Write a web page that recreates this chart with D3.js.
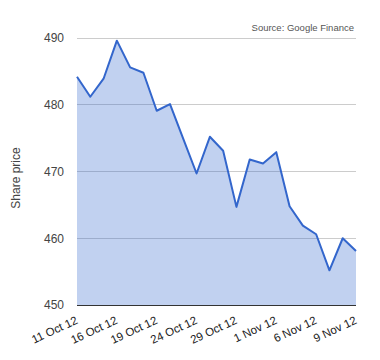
<!DOCTYPE html>
<html><head><meta charset="utf-8">
<script src="https://cdn.jsdelivr.net/npm/d3@7"></script>
<style>body{margin:0;background:#fff}svg{display:block;font-family:Arial,"Liberation Sans",sans-serif}</style>
</head><body><div id="chart"></div>
<script>
const dates = ["11 Oct 12","12 Oct 12","15 Oct 12","16 Oct 12","17 Oct 12","18 Oct 12","19 Oct 12","22 Oct 12","23 Oct 12","24 Oct 12","25 Oct 12","26 Oct 12","29 Oct 12","30 Oct 12","31 Oct 12","1 Nov 12","2 Nov 12","5 Nov 12","6 Nov 12","7 Nov 12","8 Nov 12","9 Nov 12"];
const prices = [484.2,481.2,483.9,489.6,485.6,484.8,479.1,480.1,474.9,469.7,475.2,473.1,464.7,471.8,471.2,472.9,464.8,461.9,460.6,455.2,460.0,458.1];
const shownLabels = ["11 Oct 12","16 Oct 12","19 Oct 12","24 Oct 12","29 Oct 12","1 Nov 12","6 Nov 12","9 Nov 12"];
const yTicks = [450,460,470,480,490];
const yTitle = "Share price";
const sourceText = "Source: Google Finance";

const W = 380, H = 360;
const m = {left:77, right:24, top:38, bottom:55};
const svg = d3.select("#chart").append("svg").attr("width",W).attr("height",H);
const x = d3.scalePoint().domain(dates).range([m.left, W - m.right]);
const y = d3.scaleLinear().domain([450,490]).range([H - m.bottom, m.top]);

// gridlines
svg.append("g").selectAll("line").data(yTicks.filter(d=>d!==450)).join("line")
  .attr("x1", m.left).attr("x2", W - m.right)
  .attr("y1", d=>y(d)).attr("y2", d=>y(d))
  .attr("stroke","#cccccc").attr("stroke-width",1).attr("shape-rendering","crispEdges");

const data = dates.map((d,i)=>({d, v: prices[i]}));
svg.append("path").datum(data)
  .attr("d", d3.area().x(p=>x(p.d)).y0(y(450)).y1(p=>y(p.v)))
  .attr("fill","#3366cc").attr("fill-opacity",0.3);
svg.append("path").datum(data)
  .attr("d", d3.line().x(p=>x(p.d)).y(p=>y(p.v)))
  .attr("fill","none").attr("stroke","#3366cc").attr("stroke-width",2).attr("stroke-linejoin","round");

// baseline
svg.append("line").attr("x1",m.left).attr("x2",W-m.right).attr("y1",y(450)).attr("y2",y(450))
  .attr("stroke","#333").attr("stroke-width",1).attr("shape-rendering","crispEdges");

// y axis labels
const yAxis = d3.axisLeft(y).tickValues(yTicks).tickSize(0).tickPadding(13);
const gy = svg.append("g").attr("transform",`translate(${m.left},0)`).call(yAxis);
gy.select(".domain").remove();
gy.selectAll("text").attr("font-size","12px").attr("fill","#444").attr("font-family","Arial, 'Liberation Sans', sans-serif");

// x axis labels
const xAxis = d3.axisBottom(x).tickValues(shownLabels).tickSize(0).tickPadding(0);
const gx = svg.append("g").attr("transform",`translate(0,${y(450)})`).call(xAxis);
gx.select(".domain").remove();
gx.selectAll("text").attr("font-size","11.5px").attr("fill","#222")
  .attr("font-family","Arial, 'Liberation Sans', sans-serif")
  .attr("text-anchor","end").attr("dy",0)
  .attr("transform","translate(1,18) rotate(-25)");

// y title
svg.append("text").attr("transform","translate(20,178) rotate(-90)")
  .attr("text-anchor","middle").attr("font-size","12px").attr("fill","#444").text(yTitle);

// source
svg.append("text").attr("x",W-m.right-2).attr("y",31).attr("text-anchor","end")
  .attr("font-size","9.5px").attr("fill","#555").text(sourceText);
</script></body></html>
